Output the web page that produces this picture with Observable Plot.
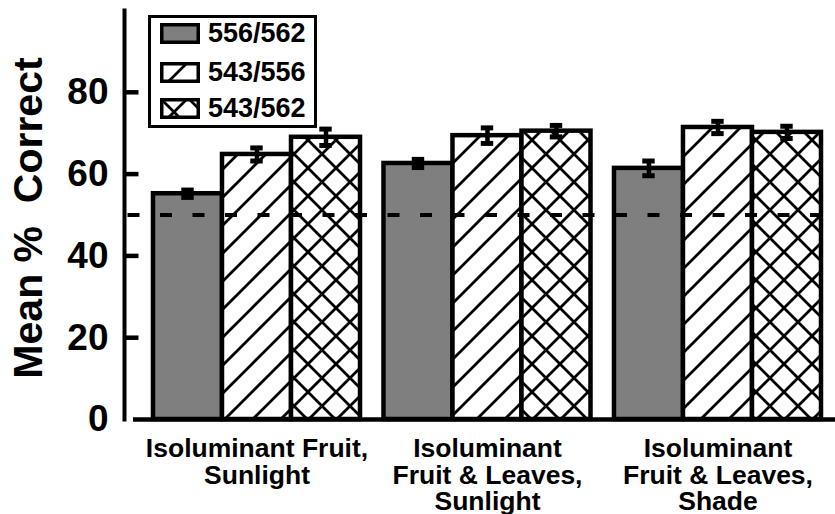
<!DOCTYPE html>
<html><head><meta charset="utf-8">
<script src="https://cdn.jsdelivr.net/npm/d3@7"></script>
<script src="https://cdn.jsdelivr.net/npm/@observablehq/plot@0.6"></script>
<style>
html,body{margin:0;padding:0;background:#fff;}
#wrap{position:relative;width:835px;height:514px;font-family:"Liberation Sans",Arial,Helvetica,sans-serif;}
#wrap > svg{display:block;}
#legend{position:absolute;left:148px;top:15px;width:169px;height:113px;box-sizing:border-box;border:3px solid #000;background:#fff;}
.row{position:absolute;left:9px;display:flex;align-items:center;height:30px;}
.row span{font-size:27px;font-weight:bold;margin-left:8px;line-height:30px;color:#000;}
.row svg{display:block;}
</style></head><body>
<svg width="0" height="0" style="position:absolute">
<defs>
<pattern id="hatch" patternUnits="userSpaceOnUse" width="28" height="28">
<rect width="28" height="28" fill="#fff"/>
<path d="M-7,7 L7,-7 M0,28 L28,0 M21,35 L35,21" stroke="#000" stroke-width="2.8"/>
</pattern>
<pattern id="cross" patternUnits="userSpaceOnUse" width="28" height="28">
<rect width="28" height="28" fill="#fff"/>
<path d="M-7,7 L7,-7 M0,28 L28,0 M21,35 L35,21 M-7,21 L7,35 M0,0 L28,28 M21,-7 L35,7" stroke="#000" stroke-width="2.8"/>
</pattern>
</defs></svg>
<div id="wrap"><div id="legend"></div></div>
<script>
const groups = ["Isoluminant Fruit,\nSunlight", "Isoluminant\nFruit & Leaves,\nSunlight", "Isoluminant\nFruit & Leaves,\nShade"];
const series = ["556/562", "543/556", "543/562"];
const mean556_562 = [55.2, 62.6, 61.4];
const mean543_556 = [64.8, 69.4, 71.4];
const mean543_562 = [69.0, 70.5, 70.2];
const err556_562 = [0.9, 1.0, 1.8];
const err543_556 = [1.6, 1.9, 1.5];
const err543_562 = [2.0, 1.4, 1.5];
const chance = [50];
const yTicks = [0, 20, 40, 60, 80];
const seriesFills = ["#7f7f7f", "url(#hatch)", "url(#cross)"];
const yTitle = "Mean %\u00A0 Correct";

// layout in bar-width units: each bar is 1 unit, groups separated by a gap
const groupGap = 0.34;
const capHalf = 0.09;
const tickLen = 0.21;
const groupStep = series.length + groupGap;
const xDomain = [-0.42, 2 * groupStep + series.length + 0.203];
const means = [mean556_562, mean543_556, mean543_562];
const errs = [err556_562, err543_556, err543_562];
const data = groups.flatMap((g, i) => series.map((s, j) => ({
  group: g, series: s, mean: means[j][i], err: errs[j][i],
  x1: i * groupStep + j, x2: i * groupStep + j + 1, xc: i * groupStep + j + 0.5
})));
const groupCenters = groups.map((g, i) => i * groupStep + series.length / 2);
const centerLabel = new Map(groupCenters.map((c, i) => [c, groups[i]]));
const tickMarks = yTicks.filter(t => t > 0).map(t => ({y: t, x1: xDomain[0], x2: xDomain[0] + tickLen}));

const font = "'Liberation Sans', Arial, Helvetica, sans-serif";
const chart = Plot.plot({
  width: 835, height: 514,
  marginLeft: 124, marginRight: 0, marginTop: 10, marginBottom: 95,
  style: {fontFamily: font, background: "white", color: "#000"},
  x: {domain: xDomain, axis: null},
  y: {domain: [0, 100], axis: null},
  color: {domain: series, range: seriesFills},
  marks: [
    Plot.rectY(data, {x1: "x1", x2: "x2", y: "mean", fill: "series", stroke: "#000", strokeWidth: 4.5}),
    Plot.ruleY(chance, {stroke: "#000", strokeWidth: 4, strokeDasharray: "12,20.5", strokeDashoffset: 29}),
    Plot.ruleX(data, {x: "xc", y1: d => d.mean - d.err, y2: d => d.mean + d.err, stroke: "#000", strokeWidth: 4.5}),
    Plot.ruleY(data, {x1: d => d.xc - capHalf, x2: d => d.xc + capHalf, y: d => d.mean - d.err, stroke: "#000", strokeWidth: 5}),
    Plot.ruleY(data, {x1: d => d.xc - capHalf, x2: d => d.xc + capHalf, y: d => d.mean + d.err, stroke: "#000", strokeWidth: 5}),
    Plot.ruleY([0], {stroke: "#000", strokeWidth: 4.5, insetLeft: 9}),
    Plot.frame({anchor: "left", stroke: "#000", strokeWidth: 4}),
    Plot.axisY(yTicks, {tickSize: 0, tickPadding: 16, fontSize: 37, fontWeight: "bold", label: null}),
    Plot.text([yTitle], {frameAnchor: "left", textAnchor: "middle", rotate: -90, dx: -96, dy: 3, fontSize: 41, fontWeight: "bold", fill: "#000"}),
    Plot.axisX(groupCenters, {anchor: "bottom", tickSize: 0, tickPadding: 19, fontSize: 26.5, fontWeight: "bold", lineHeight: 1.0, label: null, tickFormat: d => centerLabel.get(d)}),
    // inward tick marks on the y axis
    Plot.ruleY(tickMarks, {y: "y", x1: "x1", x2: "x2", stroke: "#000", strokeWidth: 4.5})
  ]
});
document.getElementById("wrap").prepend(chart);

// legend
const legend = document.getElementById("legend");
const rowTops = [0, 39, 75];
series.forEach((s, j) => {
  const row = document.createElement("div");
  row.className = "row";
  row.style.top = rowTops[j] + "px";
  row.innerHTML = `<svg width="40" height="21"><rect x="1.75" y="1.75" width="36.5" height="17.5" fill="${seriesFills[j]}" stroke="#000" stroke-width="3.5"/></svg><span>${s}</span>`;
  legend.appendChild(row);
});
</script>
</body></html>
